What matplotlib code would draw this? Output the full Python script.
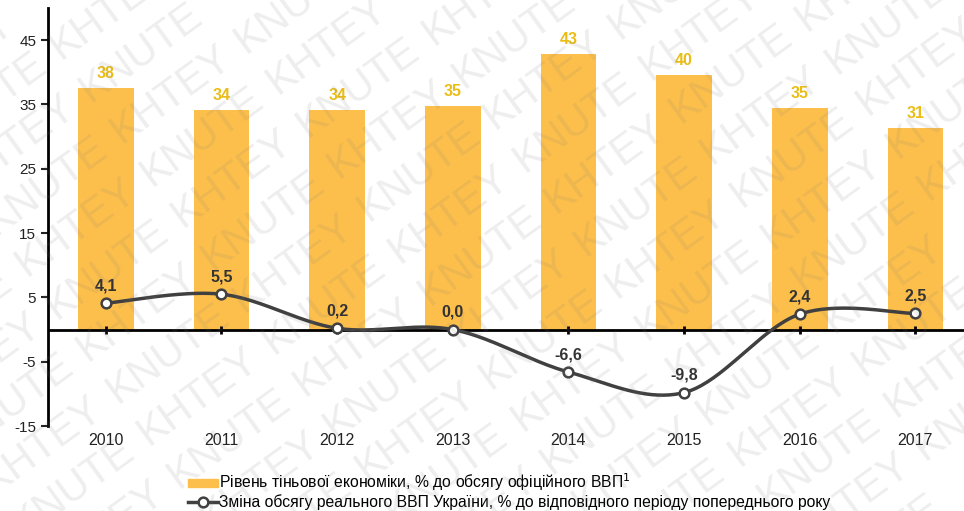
import numpy as np
import matplotlib

matplotlib.use("Agg")
import matplotlib.pyplot as plt
from matplotlib.lines import Line2D
from matplotlib.patches import Patch
from matplotlib.transforms import blended_transform_factory

plt.rcParams["font.family"] = ["Liberation Sans", "DejaVu Sans"]
plt.rcParams["axes.unicode_minus"] = False

years = ["2010", "2011", "2012", "2013", "2014", "2015", "2016", "2017"]
shadow_economy = [37.6, 34.2, 34.1, 34.8, 42.8, 39.6, 34.5, 31.3]
shadow_labels = ["38", "34", "34", "35", "43", "40", "35", "31"]
gdp_change = [4.1, 5.5, 0.2, 0.0, -6.6, -9.8, 2.4, 2.5]
gdp_labels = ["4,1", "5,5", "0,2", "0,0", "-6,6", "-9,8", "2,4", "2,5"]
y_ticks = [-15, -5, 5, 15, 25, 35, 45]
watermark_words = ["KNUTE", "KHTEY"]

BAR = "#FDBF4B"
BAR_TXT = "#EABD16"
LINE = "#404040"
W, H = 964, 511


def smooth(x, y, n=40):
    """Catmull-Rom style curve through the points (like Excel smoothed line)."""
    p = np.column_stack([x, y]).astype(float)
    p = np.vstack([p[0], p, p[-1]])
    xs, ys = [], []
    t = np.linspace(0, 1, n)
    for i in range(1, len(p) - 2):
        p0, p1, p2, p3 = p[i - 1], p[i], p[i + 1], p[i + 2]
        c1 = p1 + (p2 - p0) / 6
        c2 = p2 - (p3 - p1) / 6
        b = (((1 - t) ** 3)[:, None] * p1 + (3 * (1 - t) ** 2 * t)[:, None] * c1
             + (3 * (1 - t) * t ** 2)[:, None] * c2 + (t ** 3)[:, None] * p2)
        xs.extend(b[:, 0])
        ys.extend(b[:, 1])
    return np.array(xs), np.array(ys)


fig = plt.figure(figsize=(W / 100, H / 100), dpi=100)
ax = fig.add_axes([0.0498, 0.1663, 0.9502, 0.818])
x = np.arange(len(years))

ax.bar(x, shadow_economy, width=0.48, color=BAR, zorder=1)
for xi, v, lab in zip(x, shadow_economy, shadow_labels):
    ax.annotate(lab, (xi, v), xytext=(0, 5), textcoords="offset points",
                ha="center", va="bottom", color=BAR_TXT, fontsize=11.5,
                fontweight="bold")

ax.axhline(0, color="black", lw=2, zorder=2)

sx, sy = smooth(x, gdp_change)
ax.plot(sx, sy, color=LINE, lw=2.5, zorder=3)
ax.plot(x, gdp_change, "o", ms=7, mfc="white", mec=LINE, mew=1.8, zorder=4)
for xi, v, lab in zip(x, gdp_change, gdp_labels):
    ax.annotate(lab, (xi, v), xytext=(0, 7), textcoords="offset points",
                ha="center", va="bottom", color="#333333", fontsize=11.5,
                fontweight="bold")

ax.set_xlim(-0.5, 7.42)
ax.set_ylim(-15, 50)
ax.set_yticks(y_ticks)
ax.tick_params(axis="y", length=5, width=1.5, labelsize=11, colors="#222222")
for s in ["top", "right", "bottom"]:
    ax.spines[s].set_visible(False)
ax.spines["left"].set_linewidth(2)
ax.set_xticks([])
# small tick marks on the zero line and year labels at the bottom
ax.plot(x, np.zeros(len(x)), "|", color="black", ms=6, mew=2, zorder=2)
trans = blended_transform_factory(ax.transData, ax.transAxes)
for xi, yr in zip(x, years):
    ax.text(xi, -0.017, yr, transform=trans, ha="center", va="top",
            fontsize=11.5, color="#222222")

handles = [
    Patch(color=BAR),
    Line2D([], [], color=LINE, lw=2.5, marker="o", ms=7, mfc="white", mec=LINE,
           mew=1.8),
]
labels = [
    "Рівень тіньової економіки, % до обсягу офіційного ВВП$^{\\mathit{1}}$",
    "Зміна обсягу реального ВВП України, % до відповідного періоду попереднього року",
]
fig.legend(handles, labels, loc="lower left", bbox_to_anchor=(0.195, 0.002),
           frameon=False, fontsize=11.3, handlelength=1.9, handleheight=0.45,
           handletextpad=0.05, labelspacing=0.05, borderpad=0.0,
           borderaxespad=0.0)

# diagonal watermark "KNUTE KHTEY ..." over the whole picture
ang = np.deg2rad(36)
d = np.array([np.cos(ang), np.sin(ang)])
nrm = np.array([-np.sin(ang), np.cos(ang)])
step, row_gap = 155, 52
for r in range(-16, 18):
    for k in range(-10, 12):
        px, py = np.array([480, 255]) + r * row_gap * nrm + k * step * d
        if -50 < px < W + 20 and -50 < py < H + 20:
            word = watermark_words[(k + r) % 2]
            fig.text(px / W, py / H, word, rotation=36, fontsize=30,
                     color="#7a7a7a", alpha=0.13, ha="center", va="center",
                     rotation_mode="anchor", zorder=10)

fig.savefig("out.png", dpi=100)
